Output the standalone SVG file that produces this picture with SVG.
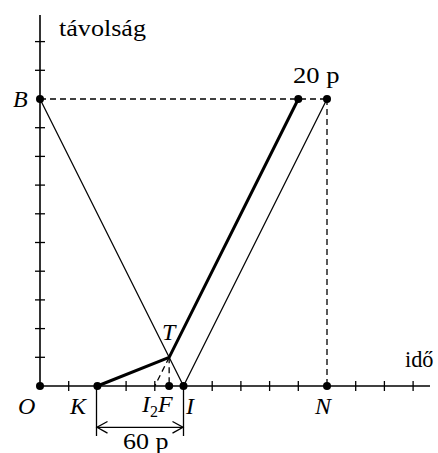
<svg xmlns="http://www.w3.org/2000/svg" width="438" height="453" viewBox="0 0 438 453">
<style>
.ax{stroke:#000;stroke-width:1.6;fill:none}
.tk{stroke:#000;stroke-width:1.3}
.thin{stroke:#000;stroke-width:1.3;fill:none}
.thick{stroke:#000;stroke-width:3;fill:none;stroke-linejoin:round}
.dash{stroke:#000;stroke-width:1.3;stroke-dasharray:6 4;fill:none}
.dot{fill:#000}
.lb{font-family:"Liberation Serif","Times New Roman",serif;font-size:23px;fill:#000}
.it{font-family:"Liberation Serif","Times New Roman",serif;font-size:24px;font-style:italic;fill:#000}
</style>
<rect width="438" height="453" fill="#fff"/>
<g id="axes">
<line class="ax" x1="40" y1="15" x2="40" y2="386"/>
<line class="ax" x1="40" y1="386" x2="430" y2="386"/>
<g class="tk">
<line x1="35" y1="357.3" x2="45" y2="357.3"/><line x1="35" y1="328.6" x2="45" y2="328.6"/><line x1="35" y1="299.9" x2="45" y2="299.9"/><line x1="35" y1="271.2" x2="45" y2="271.2"/><line x1="35" y1="242.5" x2="45" y2="242.5"/><line x1="35" y1="213.8" x2="45" y2="213.8"/><line x1="35" y1="185.1" x2="45" y2="185.1"/><line x1="35" y1="156.4" x2="45" y2="156.4"/><line x1="35" y1="127.7" x2="45" y2="127.7"/><line x1="35" y1="70.3" x2="45" y2="70.3"/><line x1="35" y1="41.6" x2="45" y2="41.6"/>
<line x1="68.7" y1="381" x2="68.7" y2="391"/><line x1="126.1" y1="381" x2="126.1" y2="391"/><line x1="154.8" y1="381" x2="154.8" y2="391"/><line x1="212.2" y1="381" x2="212.2" y2="391"/><line x1="240.9" y1="381" x2="240.9" y2="391"/><line x1="269.6" y1="381" x2="269.6" y2="391"/><line x1="298.3" y1="381" x2="298.3" y2="391"/><line x1="355.7" y1="381" x2="355.7" y2="391"/><line x1="384.4" y1="381" x2="384.4" y2="391"/><line x1="413.1" y1="381" x2="413.1" y2="391"/>
</g>
<text class="lb" x="59" y="36" textLength="87" lengthAdjust="spacingAndGlyphs">távolság</text>
<text class="lb" x="405" y="367" textLength="28.5" lengthAdjust="spacingAndGlyphs">idő</text>
</g>
<g id="connectors">
<line class="dash" x1="40" y1="99" x2="327" y2="99"/>
<line class="dash" x1="327" y1="99" x2="327" y2="386"/>
<line class="dash" x1="169.15" y1="357.3" x2="154.8" y2="386"/>
<line class="dash" x1="169.15" y1="357.3" x2="169.15" y2="386"/>
<line class="thin" x1="40" y1="99" x2="183.5" y2="386"/>
<line class="thin" x1="183.5" y1="386" x2="327" y2="99"/>
<polyline class="thick" points="97.4,386 169.15,357.3 298.3,99"/>
</g>
<g id="dimension">
<line class="thin" x1="96.5" y1="388" x2="96.5" y2="436"/>
<line class="thin" x1="183.5" y1="388" x2="183.5" y2="436"/>
<line class="thin" x1="97" y1="427.3" x2="183" y2="427.3"/>
<polyline class="thin" points="107.5,421.5 97,427.3 107.5,433.1"/>
<polyline class="thin" points="172.5,421.5 183,427.3 172.5,433.1"/>
<text class="lb" x="123" y="449" textLength="45.5" lengthAdjust="spacingAndGlyphs">60 p</text>
</g>
<g id="node-B"><circle class="dot" cx="40" cy="99" r="4"/><text class="it" x="13" y="107">B</text></g>
<g id="node-O"><circle class="dot" cx="40" cy="386" r="4"/><text class="it" x="18" y="414">O</text></g>
<g id="node-K"><circle class="dot" cx="97.4" cy="386" r="4"/><text class="it" x="70" y="414">K</text></g>
<g id="node-I2F"><circle class="dot" cx="169.15" cy="386" r="4"/><text class="it" x="142" y="412">I<tspan style="font-size:16px;font-style:normal" dy="5">2</tspan><tspan dy="-5">F</tspan></text></g>
<g id="node-I"><circle class="dot" cx="183.5" cy="386" r="4"/><text class="it" x="186" y="414">I</text></g>
<g id="node-N"><circle class="dot" cx="327" cy="386" r="4"/><text class="it" x="315" y="414">N</text></g>
<g id="node-T"><text class="it" x="162" y="340">T</text></g>
<g id="node-20p"><circle class="dot" cx="298.3" cy="99" r="4"/><text class="lb" x="293" y="83" textLength="46.5" lengthAdjust="spacingAndGlyphs">20 p</text></g>
<g id="node-NT"><circle class="dot" cx="327" cy="99" r="4"/></g>
</svg>
